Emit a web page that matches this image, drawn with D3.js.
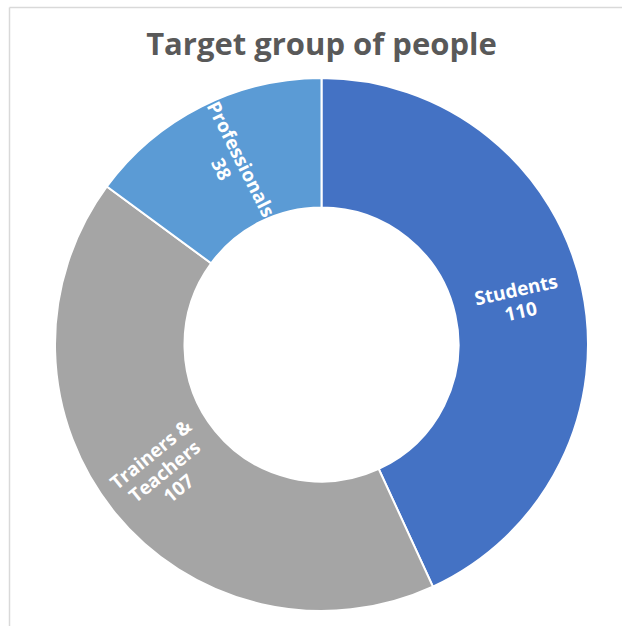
<!DOCTYPE html>
<html>
<head>
<meta charset="utf-8">
<script src="https://cdn.jsdelivr.net/npm/d3@7"></script>
<style>
  html, body { margin: 0; padding: 0; background: #fff; }
  #chart { width: 622px; height: 626px; }
</style>
</head>
<body>
<div id="chart"></div>
<script>
// data
var categories = ["Students", "Trainers & Teachers", "Professionals"];
var labelLines = [["Students"], ["Trainers &", "Teachers"], ["Professionals"]];
var values = [110, 107, 38];
var colors = ["#4472C4", "#A5A5A5", "#5B9BD5"];
var title = "Target group of people";

var width = 622, height = 626;
var cx = 321.5, cy = 344.5;
var outerR = 266.5, innerR = 137;

var svg = d3.select("#chart").append("svg")
    .attr("width", width)
    .attr("height", height);

// chart area border (only top + left show in the crop)
svg.append("line")
    .attr("x1", 9.5).attr("y1", 7.5).attr("x2", width).attr("y2", 7.5)
    .attr("stroke", "#d9d9d9").attr("stroke-width", 1.5);
svg.append("line")
    .attr("x1", 9.5).attr("y1", 7.5).attr("x2", 9.5).attr("y2", height)
    .attr("stroke", "#d9d9d9").attr("stroke-width", 1.5);

// Title
svg.append("text")
    .attr("x", cx)
    .attr("y", 55)
    .style("text-anchor", "middle")
    .style("font-family", "'Open Sans', sans-serif")
    .style("font-weight", "bold")
    .style("font-size", "31px")
    .attr("fill", "#595959")
    .text(title);

var g = svg.append("g")
    .attr("transform", "translate(" + cx + "," + cy + ")");

var data = categories.map(function (c, i) {
    return { name: c, value: values[i], lines: labelLines[i], color: colors[i] };
});

var pie = d3.pie()
    .sort(null)
    .value(function (d) { return d.value; });

var arc = d3.arc()
    .innerRadius(innerR)
    .outerRadius(outerR);

var arcs = pie(data);

g.selectAll("path")
    .data(arcs)
  .enter().append("path")
    .attr("d", arc)
    .attr("fill", function (d) { return d.data.color; })
    .attr("stroke", "#fff")
    .attr("stroke-width", 2);

// labels, rotated tangent to the ring like Excel does
var labels = g.selectAll("g.lbl")
    .data(arcs)
  .enter().append("g")
    .attr("class", "lbl")
    .attr("transform", function (d) {
        var c = arc.centroid(d);
        var mid = (d.startAngle + d.endAngle) / 2 * 180 / Math.PI;
        var rot = mid - 90;
        if (rot > 90) rot -= 180;
        return "translate(" + c[0] + "," + c[1] + ") rotate(" + rot + ")";
    });

labels.each(function (d) {
    var lines = d.data.lines.concat([String(d.data.value)]);
    var lh = 22;
    var t = d3.select(this).append("text")
        .style("text-anchor", "middle")
        .style("font-family", "'Open Sans', sans-serif")
        .style("font-weight", "bold")
        .style("font-size", "19px")
        .attr("fill", "#fff");
    lines.forEach(function (l, i) {
        t.append("tspan")
            .attr("x", 0)
            .attr("y", (i - (lines.length - 1) / 2) * lh + 6)
            .text(l);
    });
});
</script>
</body>
</html>
